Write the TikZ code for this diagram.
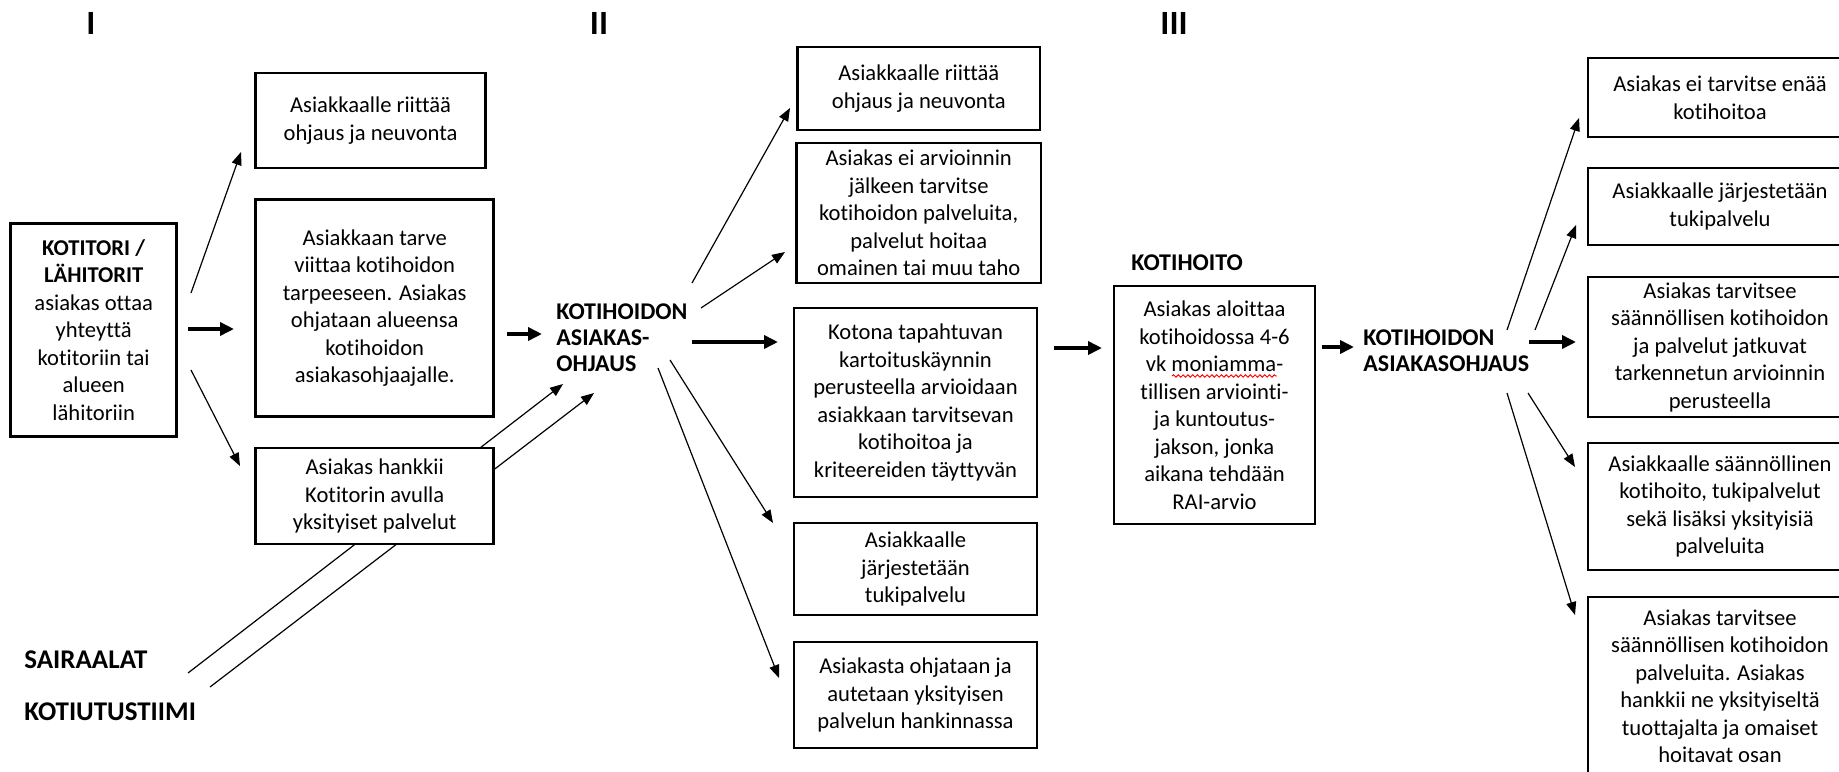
\documentclass[tikz,border=0pt]{standalone}
\usepackage{fontspec}
\setmainfont{Carlito}[Ligatures={NoCommon,NoDiscretionary,NoContextual}]
\usetikzlibrary{arrows.meta,decorations.pathmorphing}
\begin{document}
\begin{tikzpicture}[x=0.5pt,y=-0.5pt,
  box/.style={draw, line width=1.3pt, fill=white, align=center, inner sep=0pt,
    font=\fontsize{11.3}{13.75}\selectfont},
  lbl/.style={anchor=west, align=left, inner sep=0pt, font=\fontsize{12}{13}\selectfont\bfseries},
  biglbl/.style={anchor=west, inner sep=0pt, font=\fontsize{13.5}{16}\selectfont\bfseries},
  roman/.style={inner sep=0pt, font=\fontsize{17}{20}\selectfont\bfseries},
  thinarrow/.style={line width=0.6pt, -{Triangle[length=6.5pt,width=5pt]}},
  thickarrow/.style={line width=1.8pt, -{Triangle[length=7pt,width=6.5pt]}}
]
\useasboundingbox (0,0) rectangle (1839,771);
\fill[white] (0,0) rectangle (1839,771);
\clip (0,0) rectangle (1839,771);

% column headings
\node[roman] (r1) at (91,23) {I};
\node[roman] (r2) at (599,23) {II};
\node[roman] (r3) at (1174,23) {III};

% hospital sources
\node[biglbl] (sai) at (24,660) {SAIRAALAT};
\node[biglbl] (kot) at (24,712) {KOTIUTUSTIIMI};

% lines from hospitals, passing behind box B3
\coordinate (s1a) at (188,673); \coordinate (s1b) at (563,384);
\coordinate (s2a) at (210,687); \coordinate (s2b) at (594,393);
\draw[thinarrow] (s1a) -- (s1b);
\draw[thinarrow] (s2a) -- (s2b);

% stage I
\node[box, minimum width=83pt, minimum height=106.5pt] (A) at (93.7,330)
  {\textbf{KOTITORI /}\\\textbf{LÄHITORIT}\\asiakas ottaa\\yhteyttä\\kotitoriin tai\\alueen\\lähitoriin};
\node[box, minimum width=115pt, minimum height=47.5pt] (B1) at (370.6,120.4)
  {Asiakkaalle riittää\\ohjaus ja neuvonta};
\node[box, minimum width=119pt, minimum height=108.5pt] (B2) at (374.7,308)
  {Asiakkaan tarve\\viittaa kotihoidon\\tarpeeseen. Asiakas\\ohjataan alueensa\\kotihoidon\\asiakasohjaajalle.};
\node[box, minimum width=119pt, minimum height=48pt] (B3) at (374.7,496)
  {Asiakas hankkii\\Kotitorin avulla\\yksityiset palvelut};

% stage II
\node[lbl] (C) at (556,338) {KOTIHOIDON\\ASIAKAS-\\OHJAUS};
\node[box, minimum width=121.25pt, minimum height=41.5pt] (D1) at (918.8,88.5)
  {Asiakkaalle riittää\\ohjaus ja neuvonta};
\node[box, minimum width=122.3pt, minimum height=70pt] (D2) at (918.7,213)
  {Asiakas ei arvioinnin\\jälkeen tarvitse\\kotihoidon palveluita,\\palvelut hoitaa\\omainen tai muu taho};
\node[box, minimum width=121.5pt, minimum height=94.5pt] (D3) at (915.5,402.5)
  {Kotona tapahtuvan\\kartoituskäynnin\\perusteella arvioidaan\\asiakkaan tarvitsevan\\kotihoitoa ja\\kriteereiden täyttyvän};
\node[box, minimum width=121.5pt, minimum height=46pt] (D4) at (915.5,569)
  {Asiakkaalle\\järjestetään\\tukipalvelu};
\node[box, minimum width=121.5pt, minimum height=53pt] (D5) at (915.5,695)
  {Asiakasta ohjataan ja\\autetaan yksityisen\\palvelun hankinnassa};

% stage III
\node[lbl] (KH) at (1131,263) {KOTIHOITO};
\node[box, minimum width=100.5pt, minimum height=119pt] (E) at (1214.5,405)
  {Asiakas aloittaa\\kotihoidossa 4-6\\vk moniamma-\\tillisen arviointi-\\ja kuntoutus-\\jakson, jonka\\aikana tehdään\\RAI-arvio};
\draw[red, line width=0.45pt, decorate, decoration={snake, amplitude=0.6pt, segment length=2.4pt}]
  (1172,376) -- (1277,376);
\node[lbl] (F) at (1363,350.5) {KOTIHOIDON\\ASIAKASOHJAUS};
\node[box, minimum width=132pt, minimum height=39.5pt] (G1) at (1720,97.5)
  {Asiakas ei tarvitse enää\\kotihoitoa};
\node[box, minimum width=132pt, minimum height=38.5pt] (G2) at (1720,206.5)
  {Asiakkaalle järjestetään\\tukipalvelu};
\node[box, minimum width=132pt, minimum height=70pt] (G3) at (1720,347)
  {Asiakas tarvitsee\\säännöllisen kotihoidon\\ja palvelut jatkuvat\\tarkennetun arvioinnin\\perusteella};
\node[box, minimum width=132pt, minimum height=63.5pt] (G4) at (1720,506.5)
  {Asiakkaalle säännöllinen\\kotihoito, tukipalvelut\\sekä lisäksi yksityisiä\\palveluita};
\node[box, minimum width=132pt, minimum height=89pt] (G5) at (1720,686)
  {Asiakas tarvitsee\\säännöllisen kotihoidon\\palveluita. Asiakas\\hankkii ne yksityiseltä\\tuottajalta ja omaiset\\hoitavat osan};

% connector end points
\coordinate (a1s) at (191,293); \coordinate (a1e) at (241,152);
\coordinate (a2s) at (188,329); \coordinate (a2e) at (234,329);
\coordinate (a3s) at (191,370); \coordinate (a3e) at (240,466);
\coordinate (a4s) at (507,334); \coordinate (a4e) at (542,334);
\coordinate (c1s) at (692,283); \coordinate (c1e) at (790,108);
\coordinate (c2s) at (701,308); \coordinate (c2e) at (785,252);
\coordinate (c3s) at (692,342); \coordinate (c3e) at (778,342);
\coordinate (c4s) at (670,360); \coordinate (c4e) at (773,523);
\coordinate (c5s) at (658,368); \coordinate (c5e) at (779,678);
\coordinate (d3s) at (1054,348); \coordinate (d3e) at (1102,348);
\coordinate (efs) at (1322,347); \coordinate (efe) at (1354,347);
\coordinate (f1s) at (1507,330); \coordinate (f1e) at (1579,118);
\coordinate (f2s) at (1535,330); \coordinate (f2e) at (1576,225);
\coordinate (f3s) at (1529,342); \coordinate (f3e) at (1576,342);
\coordinate (f4s) at (1528,393); \coordinate (f4e) at (1575,467);
\coordinate (f5s) at (1507,393); \coordinate (f5e) at (1575,615);

\draw[thinarrow] (a1s) -- (a1e);
\draw[thickarrow] (a2s) -- (a2e);
\draw[thinarrow] (a3s) -- (a3e);
\draw[thickarrow] (a4s) -- (a4e);
\draw[thinarrow] (c1s) -- (c1e);
\draw[thinarrow] (c2s) -- (c2e);
\draw[thickarrow] (c3s) -- (c3e);
\draw[thinarrow] (c4s) -- (c4e);
\draw[thinarrow] (c5s) -- (c5e);
\draw[thickarrow] (d3s) -- (d3e);
\draw[thickarrow] (efs) -- (efe);
\draw[thinarrow] (f1s) -- (f1e);
\draw[thinarrow] (f2s) -- (f2e);
\draw[thickarrow] (f3s) -- (f3e);
\draw[thinarrow] (f4s) -- (f4e);
\draw[thinarrow] (f5s) -- (f5e);
\end{tikzpicture}
\end{document}
